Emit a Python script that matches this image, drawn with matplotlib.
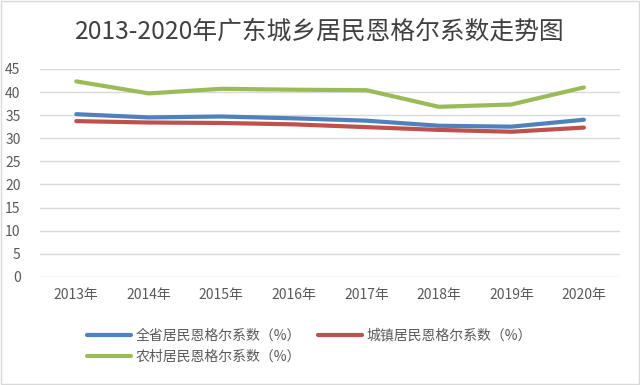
import numpy as np
import matplotlib
matplotlib.use("Agg")
import matplotlib.pyplot as plt
from matplotlib.patches import Rectangle

plt.rcParams["font.family"] = ["Noto Sans CJK SC", "DejaVu Sans"]

years = ["2013年", "2014年", "2015年", "2016年", "2017年", "2018年", "2019年", "2020年"]
province = [35.2, 34.5, 34.7, 34.3, 33.8, 32.7, 32.5, 34.0]
urban = [33.7, 33.4, 33.3, 33.0, 32.4, 31.8, 31.4, 32.3]
rural = [42.3, 39.7, 40.7, 40.5, 40.4, 36.8, 37.3, 41.0]
labels = ["全省居民恩格尔系数（%）", "城镇居民恩格尔系数（%）", "农村居民恩格尔系数（%）"]
colors = ["#4F81BD", "#C0504D", "#9BBB59"]

fig = plt.figure(figsize=(6.4, 3.85), dpi=100)
ax = fig.add_axes([0.0625, 0.281, 0.9065, 0.54])
x = np.arange(len(years))
lines = []
for vals, lab, c in zip([province, urban, rural], labels, colors):
    ln, = ax.plot(x, vals, color=c, lw=3, label=lab, solid_capstyle="round")
    lines.append(ln)

ax.set_xlim(-0.5, len(years) - 0.5)
ax.set_ylim(0, 45)
ax.set_yticks(range(0, 46, 5))
ax.set_xticks(x)
ax.set_xticklabels(years)
ax.grid(axis="y", color="#d9d9d9", lw=1)
ax.set_axisbelow(True)
for s in ax.spines.values():
    s.set_visible(False)
ax.tick_params(length=0, colors="#595959", labelsize=10)
ax.tick_params(axis="x", pad=8)
ax.tick_params(axis="y", pad=14)

fig.text(0.5, 0.918, "2013-2020年广东城乡居民恩格尔系数走势图", ha="center", va="center",
         fontsize=17.8, color="#404040")
# legend fills column-wise, so reorder to read row by row
order = [0, 2, 1]
fig.legend([lines[i] for i in order], [labels[i] for i in order],
           loc="upper left", bbox_to_anchor=(0.125, 0.165), ncol=2, frameon=False,
           fontsize=10, labelcolor="#595959", handlelength=3.2, handletextpad=0.3,
           columnspacing=1.2, labelspacing=0.55, borderpad=0)
fig.patches.append(Rectangle((0.001, 0.002), 0.997, 0.995, transform=fig.transFigure,
                             fill=False, edgecolor="#d9d9d9", lw=1))
fig.savefig("out.png")
